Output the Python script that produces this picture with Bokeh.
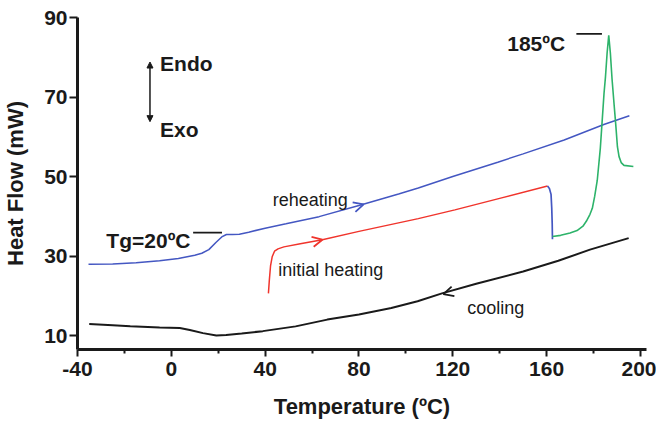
from bokeh.embed import file_html
from bokeh.models import Arrow, Label, NormalHead, OpenHead, FixedTicker
from bokeh.plotting import figure
from bokeh.resources import INLINE

# DSC traces: temperature (degC) and heat flow (mW)
reheat_t = [-35.3, -25, -15, -5, 3, 10, 13, 16, 19, 21.5, 23.5, 26, 29, 33, 40,
            48.9, 63, 80, 96.9, 105.3, 120, 139.2, 150, 167.5, 184.4, 195.3]
reheat_hf = [27.9, 28.0, 28.3, 28.8, 29.4, 30.2, 30.7, 31.6, 33.4, 34.8, 35.4, 35.4,
             35.5, 36.0, 37.0, 38.1, 39.9, 42.7, 45.6, 47.1, 50.0, 53.6, 55.7, 59.2,
             63.1, 65.3]

initial_t = [41.4, 41.8, 42.3, 43.0, 44.0, 45.5, 48, 55, 64.4, 80, 105.3, 120.9,
             140, 160.4]
initial_hf = [20.6, 24.0, 27.5, 29.8, 31.2, 31.8, 32.3, 33.1, 34.1, 36.2, 39.4, 41.6,
              44.5, 47.6]

drop_t = [160.4, 161.2, 161.9, 162.2, 162.4, 162.5]
drop_hf = [47.6, 47.0, 45.5, 42.0, 38.0, 34.2]

melt_t = [162.5, 166, 170, 173, 175.5, 177, 178.5, 179.5, 180.5, 181.6, 182.9,
          183.7, 184.5, 185.1, 185.8, 186.5, 187.2, 187.9, 188.8, 189.5, 190.2,
          190.9, 191.8, 193, 197]
melt_hf = [34.9, 35.2, 35.8, 36.4, 37.5, 38.8, 40.5, 42.0, 45.0, 49.0, 57.0, 64.0,
           71.0, 75.0, 81.0, 85.5, 81.0, 74.6, 68.0, 63.0, 57.5, 55.0, 53.5, 52.8,
           52.5]

cool_t = [-35, -25, -17.5, -5, 3.6, 7.9, 13.5, 19.2, 23.4, 30, 39, 53, 66.5, 80,
          93.8, 105, 115.4, 130, 150, 165, 178.5, 195]
cool_hf = [12.9, 12.6, 12.3, 12.0, 11.9, 11.4, 10.6, 10.0, 10.1, 10.5, 11.1, 12.3,
           14.0, 15.3, 16.9, 18.6, 20.6, 23.0, 26.1, 28.8, 31.6, 34.5]

x_ticks = [-40, 0, 40, 80, 120, 160, 200]
x_minor = [-20, 20, 60, 100, 140, 180]
y_ticks = [10, 30, 50, 70, 90]

tg_temp, tg_hf = 20, 35.9
peak_label, peak_hf = 185, 85.5

BLUE = "#4457c2"
RED = "#f0342c"
GREEN = "#2db36a"
BLACK = "#1a1a1a"
FONT = "Liberation Sans"

p = figure(width=656, height=422, x_range=(-40, 202.6), y_range=(6.48, 90),
           output_backend="svg", toolbar_location=None,
           min_border_left=77, min_border_right=10,
           min_border_top=17, min_border_bottom=73)
p.outline_line_color = None
p.xgrid.visible = False
p.ygrid.visible = False
p.background_fill_color = "white"
p.border_fill_color = "white"

p.xaxis.ticker = FixedTicker(ticks=x_ticks, minor_ticks=x_minor)
p.yaxis.ticker = FixedTicker(ticks=y_ticks)
p.xaxis.major_label_overrides = {t: str(t) for t in x_ticks}
for ax in (p.xaxis, p.yaxis):
    ax.axis_line_width = 3
    ax.axis_line_color = BLACK
    ax.major_tick_line_width = 2
    ax.major_tick_line_color = BLACK
    ax.minor_tick_line_width = 2
    ax.minor_tick_line_color = BLACK
    ax.major_tick_in = 0
    ax.minor_tick_in = 0
    ax.major_label_text_font = FONT
    ax.major_label_text_font_size = "21px"
    ax.major_label_text_font_style = "bold"
    ax.major_label_text_color = BLACK
    ax.axis_label_text_font = FONT
    ax.axis_label_text_font_size = "22px"
    ax.axis_label_text_font_style = "bold"
    ax.axis_label_text_color = BLACK
p.xaxis.major_tick_out = 7
p.xaxis.minor_tick_out = 4
p.xaxis.major_label_standoff = 5
p.xaxis.axis_label = "Temperature (ºC)"
p.xaxis.axis_label_standoff = 15
p.yaxis.major_tick_out = 8
p.yaxis.minor_tick_out = 0
p.yaxis.major_label_standoff = 2
p.yaxis.axis_label = "Heat Flow (mW)"
p.yaxis.axis_label_standoff = 13

# traces
p.line(reheat_t, reheat_hf, line_color=BLUE, line_width=1.5)
p.line(initial_t, initial_hf, line_color=RED, line_width=1.5)
p.line(drop_t, drop_hf, line_color=BLUE, line_width=1.7)
p.line(melt_t, melt_hf, line_color=GREEN, line_width=1.6)
p.line(cool_t, cool_hf, line_color=BLACK, line_width=2)

# direction arrows on the traces
def direction(x_tip, y_tip, dx, slope, color):
    p.add_layout(Arrow(end=OpenHead(size=10, line_color=color, line_width=1.8),
                       x_start=x_tip - dx, y_start=y_tip - dx * slope,
                       x_end=x_tip, y_end=y_tip, line_alpha=0))

direction(82, 43.0, 3, 0.17, BLUE)
direction(64.4, 34.1, 3, 0.13, RED)
direction(116, 20.4, -3, 0.17, BLACK)

# Endo / Exo indicator
p.add_layout(Arrow(start=NormalHead(size=6, fill_color=BLACK, line_color=BLACK),
                   end=NormalHead(size=6, fill_color=BLACK, line_color=BLACK),
                   x_start=-9.1, y_start=63.8, x_end=-9.1, y_end=78.8,
                   line_color=BLACK, line_width=1.5))

# leader lines for Tg and the melting peak
p.line([9.3, 21.6], [tg_hf, tg_hf], line_color=BLACK, line_width=1.8)
p.line([172.7, 183.6], [peak_hf + 0.4, peak_hf + 0.4], line_color=BLACK, line_width=1.8)

def label(x, y, text, size, bold=False, align="left"):
    p.add_layout(Label(x=x, y=y, text=text, text_font=FONT,
                       text_font_size=size,
                       text_font_style="bold" if bold else "normal",
                       text_color=BLACK, text_align=align,
                       text_baseline="alphabetic"))

label(-4.8, 78.35, "Endo", "21px", bold=True)
label(-4.8, 61.7, "Exo", "21px", bold=True)
label(-27.7, 33.9, f"Tg={tg_temp}ºC", "21px", bold=True)
label(167.9, 83.5, f"{peak_label}ºC", "21px", bold=True, align="right")
label(43.2, 44.1, "reheating", "18px")
label(45.6, 26.6, "initial heating", "18px")
label(126.2, 17.0, "cooling", "18px")

open("out.html", "w").write(file_html(p, INLINE))
